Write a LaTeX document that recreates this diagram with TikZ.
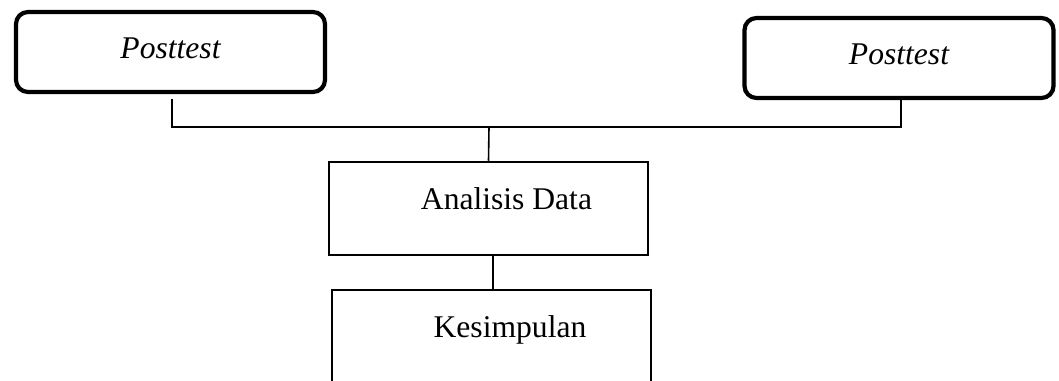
\documentclass[tikz,border=0pt]{standalone}
\usepackage{fontspec}
\setmainfont{Liberation Serif}
\usetikzlibrary{positioning,calc}

\begin{document}
\begin{tikzpicture}[x=1pt, y=-1pt, every node/.style={font=\fontsize{31.6}{38}\selectfont}]
        \tikzstyle{testbox} = [rectangle, rounded corners=12pt, draw=black, line width=4.2pt,
            minimum width=309pt, minimum height=80pt, inner sep=0pt,
            text height=22pt, text depth=10pt, font=\fontsize{31.6}{38}\selectfont\itshape]
        \tikzstyle{block} = [rectangle, draw=black, line width=2.5pt,
            minimum width=319pt, minimum height=93pt, inner sep=0pt,
            text height=22pt, text depth=20pt]
        \tikzstyle{line} = [line width=1.6pt]

        \useasboundingbox (0,0) rectangle (1059,380);

        \node (pre) [testbox] at (170.5,52) {Posttest};
        \node (post) [testbox] at (899,58) {Posttest};
        \node (ana) [block] at (488.5,208.5) {\hspace*{36pt}Analisis Data};
        \node (kes) [block] at (491.5,336.5) {\hspace*{37pt}Kesimpulan};

        % branch points
        \coordinate (bus) at (489,127);
        \coordinate (preout) at ($(pre.south)+(1.5,0)$);
        \coordinate (postout) at ($(post.south)+(2,0)$);
        \coordinate (anaout) at ($(ana.south)+(4.5,0)$);

        \draw [line, shorten <=5pt] (preout) -- (preout |- bus) -- (postout |- bus) -- (postout);
        \draw [line] (bus) -- (ana.north);
        \draw [line] (anaout) -- (anaout |- kes.north);
    \end{tikzpicture}
\end{document}
